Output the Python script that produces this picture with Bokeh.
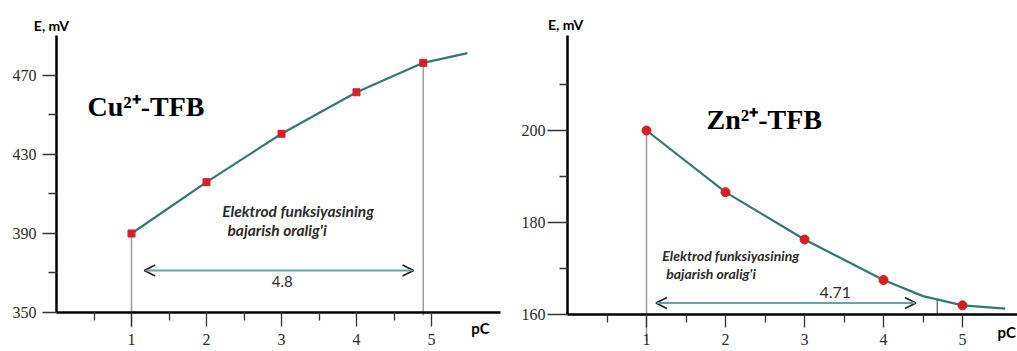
from bokeh.plotting import figure
from bokeh.layouts import row
from bokeh.models import Range1d, FixedTicker, Label, Arrow, OpenHead
from bokeh.embed import file_html
from bokeh.resources import INLINE

# ---------------- data ----------------
# Cu2+-TFB electrode
cu_pc = [1, 2, 3, 4, 4.89]
cu_e = [390, 416, 440.5, 461.5, 476.4]
cu_curve_pc = [1, 2, 3, 4, 4.89, 5.48]
cu_curve_e = [390, 416, 440.5, 461.5, 476.4, 481.3]
cu_yticks = [350, 390, 430, 470]
cu_yminor = [370, 410, 450]
cu_range_label = "4.8"

# Zn2+-TFB electrode
zn_pc = [1, 2, 3, 4, 5]
zn_e = [200, 186.6, 176.3, 167.5, 162.0]
zn_curve_pc = [1, 2, 3, 4, 4.5, 5, 5.54]
zn_curve_e = [200, 186.6, 176.3, 167.5, 164.0, 162.0, 161.3]
zn_yticks = [160, 180, 200]
zn_yminor = [170, 190, 210]
zn_range_label = "4.71"
zn_range_end = 4.68

x_ticks = [1, 2, 3, 4, 5]
x_minor = [0.5, 1.5, 2.5, 3.5, 4.5]

CURVE = "#2f7a74"
MARK = "#d81e25"
ARROW = "#5aa9a8"
GREY = "#9c9c9c"
TXT = "#2b2b2b"


def base_fig(width, xr, yr, x_at, y_at, xb, yb, yt, ym, ytick_out, ystand, xtick_out, xstand):
    p = figure(width=width, height=351, x_range=Range1d(*xr), y_range=Range1d(*yr),
               output_backend="svg", toolbar_location=None, min_border=0,
               min_border_left=0, min_border_right=0, min_border_top=0, min_border_bottom=0)
    p.outline_line_color = None
    p.grid.visible = False
    p.xaxis.ticker = FixedTicker(ticks=x_ticks, minor_ticks=x_minor)
    p.yaxis.ticker = FixedTicker(ticks=yt, minor_ticks=ym)
    p.xaxis.fixed_location = x_at
    p.yaxis.fixed_location = y_at
    p.xaxis.bounds = xb
    p.yaxis.bounds = yb
    for ax in (p.xaxis, p.yaxis):
        ax.axis_line_color = "black"
        ax.axis_line_width = 2.5
        ax.major_tick_in = 0
        ax.minor_tick_in = 0
        ax.major_tick_line_color = "#333333"
        ax.minor_tick_line_color = "#333333"
        ax.major_tick_line_width = 1.3
        ax.minor_tick_line_width = 1.3
        ax.major_label_text_font = "Liberation Serif"
        ax.major_label_text_font_size = "16px"
        ax.major_label_text_color = TXT
    p.yaxis.major_tick_out = ytick_out
    p.yaxis.minor_tick_out = 8
    p.yaxis.major_label_standoff = ystand
    p.xaxis.major_tick_out = xtick_out
    p.xaxis.minor_tick_out = 8
    p.xaxis.major_label_standoff = xstand
    return p


def add_text(p, x, y, text, font="Lato", size="13px", style="bold italic",
             align="left", baseline="middle", color=TXT):
    p.add_layout(Label(x=x, y=y, text=text, text_font=font, text_font_size=size,
                       text_font_style=style, text_align=align,
                       text_baseline=baseline, text_color=color))


# ---------------- left: Cu ----------------
p1 = base_fig(510, (-0.7467, 6.0533), (330.25, 507.97), 350, 0, (0, 5.92), (350, 490.25),
              cu_yticks, cu_yminor, 14, 6, 14, 8)

p1.segment(x0=[cu_pc[0], cu_pc[-1]], y0=[cu_e[0], cu_e[-1]],
           x1=[cu_pc[0], cu_pc[-1]], y1=[342.4, 348.5],
           line_color=GREY, line_width=1.5)
p1.line(cu_curve_pc, cu_curve_e, line_color=CURVE, line_width=2.2)
p1.scatter(cu_pc, cu_e, marker="square", size=7, fill_color=MARK, line_color=MARK)
p1.add_layout(Arrow(start=OpenHead(size=11, line_color="#222222", line_width=1.6),
                    end=OpenHead(size=11, line_color="#222222", line_width=1.6),
                    x_start=1.17, y_start=371.3, x_end=4.76, y_end=371.3,
                    line_color=ARROW, line_width=2))
add_text(p1, 3.01, 365.7, cu_range_label, size="15px", style="normal", align="center")
add_text(p1, 2.21, 401.6, "Elektrod funksiyasining", size="15.5px")
add_text(p1, 2.28, 392.0, "bajarish oralig'i", size="15.5px")
add_text(p1, 0.413, 454.3, "Cu²⁺-TFB", font="Liberation Serif", size="28px",
         style="bold", baseline="alphabetic", color="black")
add_text(p1, -0.067, 495.3, "E, mV", size="14px", style="bold", align="center", color="black")
add_text(p1, 5.653, 342.4, "pC", size="15px", style="bold", align="center", color="black")

# ---------------- right: Zn ----------------
p2 = base_fig(507, (-0.7215, 5.696), (151.96, 228.26), 160, 0, (0, 5.70), (160, 220.65),
              zn_yticks, zn_yminor, 20, 2, 13, 6)

p2.segment(x0=[zn_pc[0]], y0=[zn_e[0]], x1=[zn_pc[0]], y1=[154.3],
           line_color=GREY, line_width=1.5)
p2.segment(x0=[zn_range_end], y0=[160], x1=[zn_range_end], y1=[163.3],
           line_color="#555555", line_width=1.2)
p2.line(zn_curve_pc, zn_curve_e, line_color=CURVE, line_width=2.2)
p2.scatter(zn_pc, zn_e, marker="circle", size=9, fill_color=MARK, line_color=MARK)
p2.add_layout(Arrow(start=OpenHead(size=11, line_color="#222222", line_width=1.6),
                    end=OpenHead(size=11, line_color="#222222", line_width=1.6),
                    x_start=1.12, y_start=162.5, x_end=4.41, y_end=162.5,
                    line_color=ARROW, line_width=2))
add_text(p2, 3.39, 164.85, zn_range_label, size="16px", style="normal", align="center")
add_text(p2, 1.20, 172.8, "Elektrod funksiyasining", size="14px")
add_text(p2, 1.25, 168.9, "bajarish oralig'i", size="14px")
add_text(p2, 1.76, 202.4, "Zn²⁺-TFB", font="Liberation Serif", size="28px",
         style="bold", baseline="alphabetic", color="black")
add_text(p2, -0.025, 223.0, "E, mV", size="14px", style="bold", align="center", color="black")
add_text(p2, 5.443, 156.1, "pC", size="15px", style="bold", align="left", color="black")

layout = row(p1, p2)
open("out.html", "w").write(file_html(layout, INLINE))
